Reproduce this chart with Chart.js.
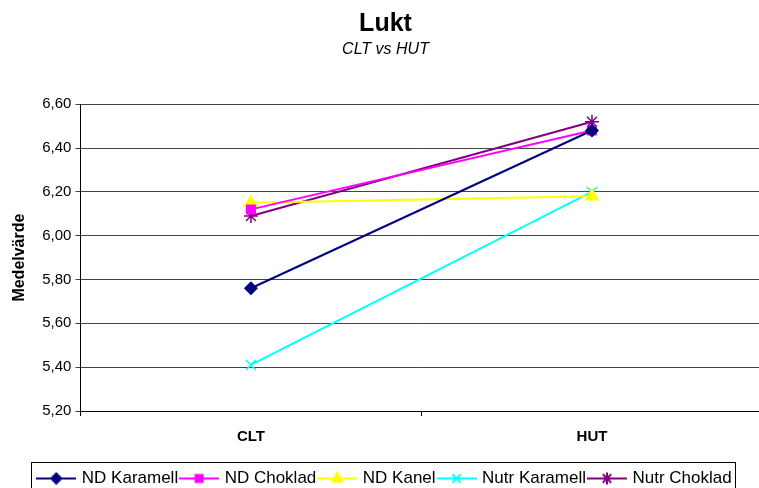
<!DOCTYPE html>
<html>
<head>
<meta charset="utf-8">
<script src="https://cdn.jsdelivr.net/npm/chart.js@4/dist/chart.umd.min.js"></script>
<style>
    html, body { margin: 0; padding: 0; background: #fff; overflow: hidden; }
    #wrap { width: 771px; height: 488px; overflow: hidden; }
</style>
</head>
<body>
<div id="wrap"><canvas id="chart" width="771" height="497"></canvas></div>
<script>
const categories = ["CLT", "HUT"];
const seriesNames = ["ND Karamell", "ND Choklad", "ND Kanel", "Nutr Karamell", "Nutr Choklad"];
const ndKaramell = [5.76, 6.48];
const ndChoklad = [6.12, 6.48];
const ndKanel = [6.15, 6.18];
const nutrKaramell = [5.41, 6.20];
const nutrChoklad = [6.09, 6.52];
const yTicks = [5.2, 5.4, 5.6, 5.8, 6.0, 6.2, 6.4, 6.6];

const colors = ["#000080", "#FF00FF", "#FFFF00", "#00FFFF", "#800080"];
const styles = ["rectRot", "rect", "triangle", "crossRot", "star"];
const radii = [6, 6, 7, 7, 7];
const values = [ndKaramell, ndChoklad, ndKanel, nutrKaramell, nutrChoklad];
const FONT = "'Liberation Sans', Arial, sans-serif";

function legendIcon(i) {
    const c = document.createElement("canvas");
    c.width = 40;
    c.height = 16;
    const ctx = c.getContext("2d");
    ctx.strokeStyle = colors[i];
    ctx.fillStyle = colors[i];
    ctx.lineWidth = 2;
    ctx.beginPath();
    ctx.moveTo(0, 8);
    ctx.lineTo(40, 8);
    ctx.stroke();
    Chart.helpers.drawPoint(ctx, {
        pointStyle: styles[i], radius: radii[i] - 1, borderWidth: 1.5, rotation: 0
    }, 20, 8);
    return c;
}

// draw a frame round the legend items only
const legendBorder = {
    id: "legendBorder",
    afterDraw(chart) {
        const boxes = chart.legend.legendHitBoxes;
        if (!boxes.length) return;
        const left = Math.min(...boxes.map(b => b.left)) - 8;
        const right = Math.max(...boxes.map(b => b.left + b.width)) + 4;
        const top = Math.min(...boxes.map(b => b.top)) - 8;
        const ctx = chart.ctx;
        ctx.save();
        ctx.strokeStyle = "#000";
        ctx.lineWidth = 1;
        ctx.strokeRect(Math.round(left) + 0.5, Math.round(top) + 0.5, Math.round(right - left), 40);
        ctx.restore();
    }
};

const datasets = seriesNames.map((name, i) => ({
    label: name,
    data: values[i],
    borderColor: colors[i],
    backgroundColor: colors[i],
    pointBackgroundColor: colors[i],
    pointBorderColor: colors[i],
    pointStyle: styles[i],
    pointRadius: radii[i],
    pointBorderWidth: 1.5,
    borderWidth: 2,
    tension: 0
}));

new Chart(document.getElementById("chart"), {
    type: "line",
    data: { labels: categories, datasets: datasets },
    options: {
        responsive: false,
        animation: false,
        layout: { padding: { top: 9, left: 0, right: 0, bottom: 0 } },
        plugins: {
            title: {
                display: true,
                text: "Lukt",
                color: "#000",
                font: { family: FONT, size: 25, weight: "bold" },
                padding: { top: 0, bottom: 1 }
            },
            subtitle: {
                display: true,
                text: "CLT vs HUT",
                color: "#000",
                font: { family: FONT, size: 16, style: "italic" },
                padding: { top: 0, bottom: 45 }
            },
            legend: {
                position: "bottom",
                labels: {
                    color: "#000",
                    font: { family: FONT, size: 17 },
                    usePointStyle: true,
                    pointStyleWidth: 34,
                    boxHeight: 14,
                    padding: 4,
                    generateLabels(chart) {
                        return chart.data.datasets.map((ds, i) => ({
                            text: ds.label,
                            fillStyle: colors[i],
                            strokeStyle: colors[i],
                            pointStyle: legendIcon(i),
                            lineWidth: 0,
                            datasetIndex: i,
                            fontColor: "#000"
                        }));
                    }
                }
            },
            tooltip: { enabled: false }
        },
        scales: {
            x: {
                offset: true,
                border: { color: "#000", width: 1 },
                grid: { display: true, drawOnChartArea: false, drawTicks: true, tickLength: 5, offset: true, color: "#000" },
                ticks: {
                    color: "#000",
                    padding: 12,
                    font: { family: FONT, size: 15, weight: "bold" }
                },
                afterFit(scale) {
                    scale.height += 8;
                }
            },
            y: {
                min: yTicks[0],
                max: yTicks[yTicks.length - 1],
                border: { color: "#000", width: 1 },
                afterBuildTicks(scale) {
                    scale.ticks = yTicks.map(v => ({ value: v }));
                },
                afterFit(scale) {
                    scale.width += 5;
                },
                grid: { color: "#444", tickLength: 5, drawTicks: true },
                ticks: {
                    color: "#000",
                    padding: 4,
                    font: { family: FONT, size: 15 },
                    callback: v => Number(v).toFixed(2).replace(".", ",")
                },
                title: {
                    display: true,
                    text: "Medelvärde",
                    color: "#000",
                    padding: { top: 10, bottom: 4 },
                    font: { family: FONT, size: 16, weight: "bold" }
                }
            }
        }
    },
    plugins: [legendBorder]
});
</script>
</body>
</html>
